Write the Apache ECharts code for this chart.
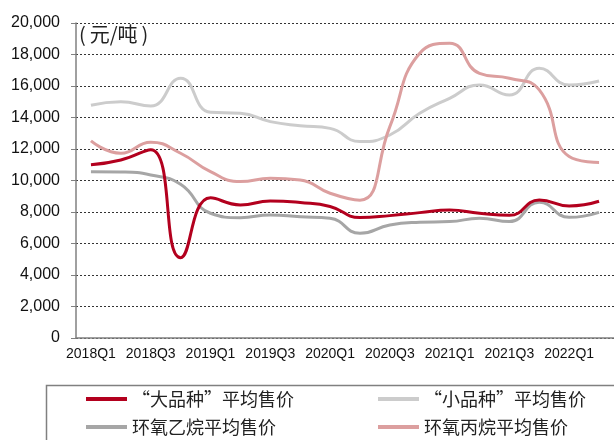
<!DOCTYPE html>
<html><head><meta charset="utf-8">
<script src="https://cdn.jsdelivr.net/npm/echarts@6/dist/echarts.min.js"></script>
<style>html,body{margin:0;padding:0;background:#fff}#c{width:614px;height:440px}</style>
</head><body><div id="c"></div>
<script>
const categories = ['2018Q1','2018Q2','2018Q3','2018Q4','2019Q1','2019Q2','2019Q3','2019Q4','2020Q1','2020Q2','2020Q3','2020Q4','2021Q1','2021Q2','2021Q3','2021Q4','2022Q1','2022Q2'];
const bigVariety = [11000,11300,11950,5100,8900,8450,8700,8600,8350,7650,7770,7960,8130,7920,7790,8760,8380,8680];
const smallVariety = [14780,15000,14730,16500,14330,14270,13740,13480,13310,12470,12890,14270,15220,16060,15430,17120,16060,16320];
const ethyleneOxide = [10560,10540,10350,9760,7920,7640,7810,7700,7600,6650,7180,7350,7390,7600,7390,8620,7660,7980];
const propyleneOxide = [12510,11730,12430,11730,10560,9930,10140,10030,9190,8750,13420,18080,18710,16800,16490,15750,11520,11140];
const names = ['“大品种”平均售价','“小品种”平均售价','环氧乙烷平均售价','环氧丙烷平均售价'];
const colors = ['#b3001e','#cccccc','#a6a6a6','#dc9f9f'];

const chart = echarts.init(document.getElementById('c'));
const legendFont = {fontFamily:'"Noto Sans CJK SC", sans-serif', fontSize:18, color:'#222'};
function lg(i, left, top){
  return {data:[names[i]], left:left, top:top, padding:0, icon:'rect', itemWidth:41, itemHeight:4, itemGap:0, textStyle:legendFont, selectedMode:false};
}
chart.setOption({
  animation:false,
  grid:{left:76, top:23, width:540, height:315},
  xAxis:{type:'category', data:categories, boundaryGap:true,
    axisLine:{lineStyle:{color:'#808080', width:1.5}},
    axisTick:{interval:0, length:5, lineStyle:{color:'#808080'}},
    axisLabel:{interval:1, margin:9, color:'#111', fontSize:14, fontFamily:'"Liberation Sans", Arial, sans-serif'},
    splitLine:{show:false}},
  yAxis:{type:'value', min:0, max:20000, interval:2000,
    axisLine:{show:true, lineStyle:{color:'#808080', width:1.5}},
    axisTick:{show:true, length:5, lineStyle:{color:'#808080'}},
    axisLabel:{margin:16, color:'#111', fontSize:16, fontFamily:'"Liberation Sans", Arial, sans-serif',
      formatter:v=>v.toLocaleString('en-US')},
    splitLine:{lineStyle:{color:'#333', type:[2,2], width:1}}},
  legend:[lg(0,86,390), lg(1,378,390), lg(2,86,418), lg(3,378,418)],
  graphic:[
    {type:'rect', left:44, top:383, shape:{width:600, height:80}, style:{fill:'none', stroke:'#808080', lineWidth:1.5}},
    {type:'text', left:79, top:24, style:{text:'(\u2009元/吨\u2009)', font:'20px "Noto Sans CJK SC", sans-serif', fill:'#222'}}
  ],
  series:[
    {name:names[1], type:'line', data:smallVariety, smooth:0.5, showSymbol:false, lineStyle:{color:colors[1], width:3}, itemStyle:{color:colors[1]}},
    {name:names[2], type:'line', data:ethyleneOxide, smooth:0.5, showSymbol:false, lineStyle:{color:colors[2], width:3}, itemStyle:{color:colors[2]}},
    {name:names[3], type:'line', data:propyleneOxide, smooth:0.5, showSymbol:false, lineStyle:{color:colors[3], width:3}, itemStyle:{color:colors[3]}},
    {name:names[0], type:'line', data:bigVariety, smooth:0.5, showSymbol:false, lineStyle:{color:colors[0], width:3}, itemStyle:{color:colors[0]}}
  ]
});
</script></body></html>
